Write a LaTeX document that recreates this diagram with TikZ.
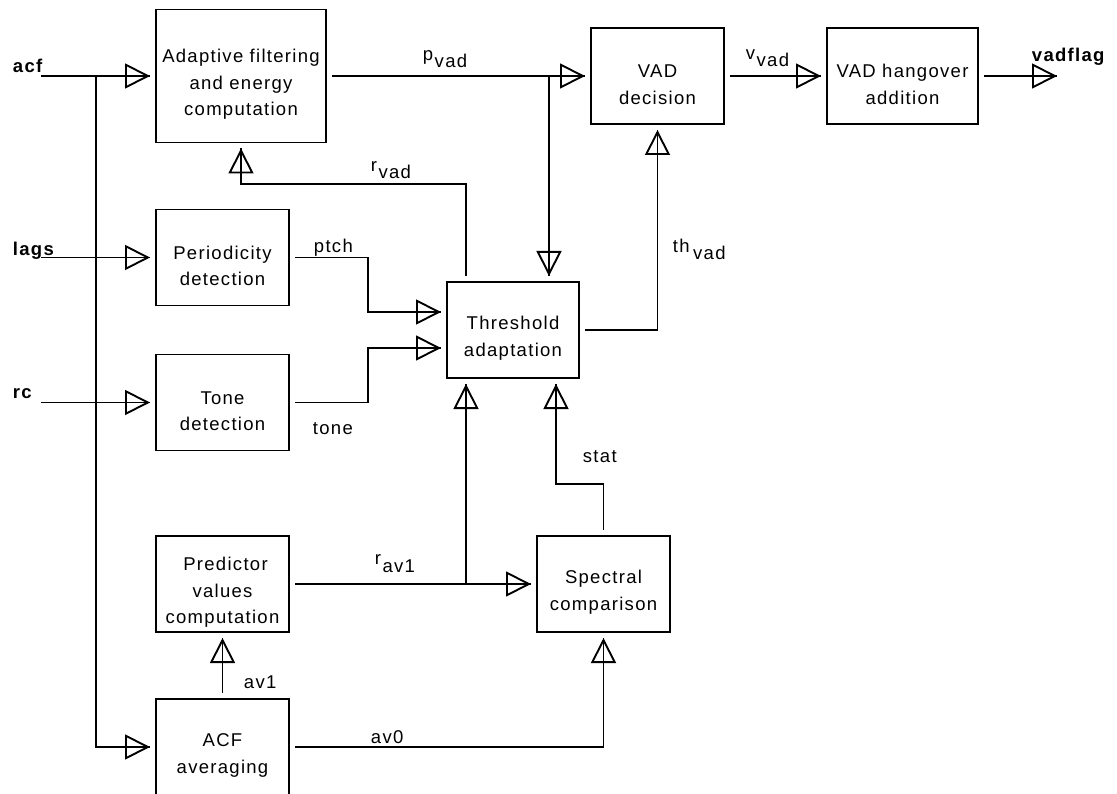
\documentclass[tikz,border=0pt]{standalone}
\usepackage{fontspec}
\setmainfont{Liberation Sans}[LetterSpace=7]
\usetikzlibrary{arrows.meta}
\newcommand\txtsize{\fontsize{18.5}{26.5}\selectfont}
\newcommand\sublab[2]{\raisebox{7.5pt}{#1}\kern1.5pt#2}
\newcommand\dn{\rule{0pt}{30pt}}
\begin{document}
\begin{tikzpicture}[x=1pt,y=-1pt,line width=1.9pt,
  blk/.style={draw,rectangle,line width=1.8pt,align=center,inner sep=0pt,outer sep=6pt,
              minimum width=133pt,minimum height=96pt,font=\txtsize},
  arr/.style={-{Triangle[open,length=25pt,width=25pt]},preaction={draw,arrows=-}},
  lbl/.style={anchor=base west,inner sep=0pt,font=\txtsize},
  ilbl/.style={anchor=base west,inner sep=0pt,font=\txtsize\bfseries}]
\path[use as bounding box,clip] (0,0) rectangle (1117,794);

% blocks
\node[blk,minimum width=170pt,minimum height=133pt] (A) at (241,76) {\dn Adaptive filtering\\and energy\\computation};
\node[blk] (P) at (222.5,257.5) {\dn Periodicity\\detection};
\node[blk] (T) at (222.5,402.5) {\dn Tone\\detection};
\node[blk] (Pr) at (222.5,584) {\dn \kern6pt Predictor\\values\\computation};
\node[blk] (ACF) at (222.5,747) {\dn ACF\\averaging};
\node[blk] (S) at (603.5,584) {\dn Spectral\\comparison};
\node[blk,minimum width=132pt] (Th) at (513,330) {\dn Threshold\\adaptation};
\node[blk] (V) at (657.5,76) {\dn VAD\\decision};
\node[blk,minimum width=151pt] (H) at (902.5,76) {\dn VAD hangover\\addition};

% free ends and bends
\coordinate (acfin) at (41,76);
\coordinate (bus) at (96,76);
\coordinate (lagsin) at (41,257.5);
\coordinate (rcin) at (41,402.5);
\coordinate (pj) at (549,76);
\coordinate (vout) at (1057,76);
\coordinate (rv) at (466,184);
\coordinate (pc) at (368,312);
\coordinate (tc) at (368,348);
\coordinate (rj) at (466,584);
\coordinate (sc) at (556,484);

% connectors
\draw[arr] (acfin) -- (A.west);
\draw[arr] (bus) |- (ACF.west);
\draw[arr] (lagsin) -- (P.west);
\draw[arr] (rcin) -- (T.west);
\draw[arr] (A.east) -- (V.west);
\draw[arr] (pj) -- (pj |- Th.north);
\draw[arr] (V.east) -- (H.west);
\draw[arr] (H.east) -- (vout);
\draw[arr] (rv |- Th.north) -- (rv) -| (A.south);
\draw[arr] (P.east) -| (pc) -- (pc -| Th.west);
\draw[arr] (T.east) -| (tc) -- (tc -| Th.west);
\draw[arr] (Th.east) -| (V.south);
\draw[arr] (Pr.east) -- (S.west);
\draw[arr] (rj) -- (rj |- Th.south);
\draw[arr] (S.north) |- (sc) -- (sc |- Th.south);
\draw[arr] (ACF.north) -- (Pr.south);
\draw[arr] (ACF.east) -| (S.south);

% input / output labels
\node[ilbl] (lacf) at (12,73) {acf};
\node[ilbl] (llags) at (12,256) {lags};
\node[ilbl] (lrc) at (12,399) {rc};
\node[ilbl] (lvadflag) at (1031,62) {vadflag};

% signal labels
\node[lbl] (lpvad) at (422,68) {\sublab{p}{vad}};
\node[lbl] (lvvad) at (745,67) {\sublab{v}{vad}};
\node[lbl] (lrvad) at (370,179) {\sublab{r}{vad}};
\node[lbl] (lptch) at (313,253) {ptch};
\node[lbl] (lthvad) at (672,260) {\sublab{th}{\kern2pt vad}};
\node[lbl] (ltone) at (312,434) {tone};
\node[lbl] (lstat) at (582,462) {stat};
\node[lbl] (lrav) at (374,572) {\sublab{r}{av1}};
\node[lbl] (lav1) at (243,688) {av1};
\node[lbl] (lav0) at (370,743) {av0};
\end{tikzpicture}
\end{document}
